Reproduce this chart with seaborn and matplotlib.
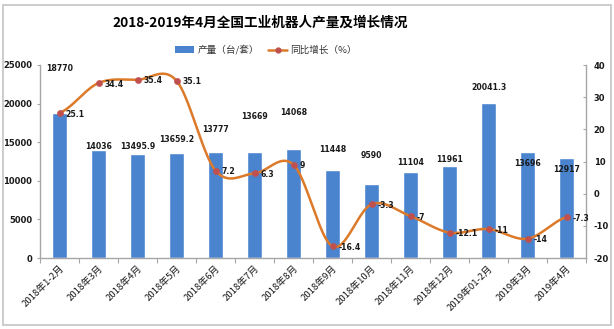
import numpy as np
import matplotlib
matplotlib.use("Agg")
import matplotlib.pyplot as plt
from matplotlib.patches import Rectangle
from matplotlib.lines import Line2D
import seaborn as sns

# ---- data -------------------------------------------------------------
months = ["2018年1-2月", "2018年3月", "2018年4月", "2018年5月", "2018年6月",
          "2018年7月", "2018年8月", "2018年9月", "2018年10月", "2018年11月",
          "2018年12月", "2019年01-2月", "2019年3月", "2019年4月"]
output = [18770, 14036, 13495.9, 13659.2, 13777, 13669, 14068,
          11448, 9590, 11104, 11961, 20041.3, 13696, 12917]
growth = [25.1, 34.4, 35.4, 35.1, 7.2, 6.3, 9,
          -16.4, -3.3, -7, -12.1, -11, -14, -7.3]

title = "2018-2019年4月全国工业机器人产量及增长情况"
bar_name = "产量（台/套）"
line_name = "同比增长（%）"

# where the output labels sit (left-axis units)
bar_label_y = [24600, 14400, 14400, 15300, 16700, 18300, 18800,
               14100, 13300, 12400, 12800, 22150, 12300, 11500]

BAR_C = "#4a84cf"
LINE_C = "#dc7a2a"
MARK_C = "#c0504d"
AXIS_C = "#a6a6a6"
TEXT_C = "#1a1a1a"


def smooth_curve(values, steps=40):
    """Catmull-Rom curve through the points (x = 0..n-1)."""
    v = np.asarray(values, float)
    p = np.concatenate([[v[0]], v, [v[-1]]])
    xs, ys = [], []
    t = np.linspace(0, 1, steps, endpoint=False)
    h00 = 2 * t**3 - 3 * t**2 + 1
    h10 = t**3 - 2 * t**2 + t
    h01 = -2 * t**3 + 3 * t**2
    h11 = t**3 - t**2
    for i in range(len(v) - 1):
        p0, p1, p2, p3 = p[i], p[i + 1], p[i + 2], p[i + 3]
        m1 = (p2 - p0) / 2
        m2 = (p3 - p1) / 2
        ys.append(h00 * p1 + h10 * m1 + h01 * p2 + h11 * m2)
        xs.append(i + t)
    xs.append(np.array([len(v) - 1.0]))
    ys.append(np.array([v[-1]]))
    return np.concatenate(xs), np.concatenate(ys)


sns.set_theme(style="white")
plt.rcParams["font.family"] = ["Noto Sans CJK SC", "DejaVu Sans"]
plt.rcParams["axes.unicode_minus"] = False

W, H = 614, 329
fig = plt.figure(figsize=(W / 100, H / 100), dpi=100)
fig.patch.set_facecolor("white")
ax = fig.add_axes([40 / W, 1 - 258 / H, 546 / W, 193 / H])

# bars
sns.barplot(x=months, y=output, color=BAR_C, saturation=1, width=0.4, ax=ax, zorder=2)
ax.set_xlim(-0.5, len(months) - 0.5)
ax.set_ylim(0, 25000)
ax.set_yticks(range(0, 25001, 5000))
ax.set_xlabel("")
ax.set_ylabel("")

for i, (v, ly) in enumerate(zip(output, bar_label_y)):
    ax.text(i, ly, f"{v:g}", ha="center", va="center", fontsize=5.6,
            fontweight="bold", family="DejaVu Sans", color=TEXT_C, zorder=3)

# growth line on the secondary axis
ax2 = ax.twinx()
ax2.set_ylim(-20, 40)
ax2.set_yticks(range(-20, 41, 10))
cx, cy = smooth_curve(growth)
sns.lineplot(x=cx, y=cy, sort=False, ax=ax2, color=LINE_C, lw=1.8, zorder=3)
sns.scatterplot(x=np.arange(len(growth)), y=growth, ax=ax2, color=MARK_C,
                edgecolor=MARK_C, s=20, zorder=4)
for i, v in enumerate(growth):
    ax2.annotate(f"{v:g}", (i, v), xytext=(4.5, -0.8), textcoords="offset points",
                 ha="left", va="center", fontsize=5.6, fontweight="bold",
                 family="DejaVu Sans", color=TEXT_C, zorder=5)
ax2.set_ylabel("")

# axes styling
for s in ["top", "right"]:
    ax.spines[s].set_visible(False)
for s in ["top", "left", "bottom"]:
    ax2.spines[s].set_visible(False)
for s in ["left", "bottom"]:
    ax.spines[s].set_color(AXIS_C)
    ax.spines[s].set_linewidth(1.0)
ax2.spines["right"].set_color(AXIS_C)
ax2.spines["right"].set_linewidth(1.0)

ax.set_xticks(range(len(months)))
ax.set_xticklabels(months, rotation=45, ha="right", va="top",
                   rotation_mode="anchor", fontsize=6.9, color=TEXT_C)
ax.set_xticks(np.arange(-0.5, len(months)), minor=True)
ax.tick_params(axis="x", which="major", length=0, pad=4)
ax.tick_params(axis="x", which="minor", length=3.5, width=0.8, color=AXIS_C,
               direction="out", bottom=True)
ax.tick_params(axis="y", length=2.5, width=0.8, color=AXIS_C, direction="out",
               pad=3, labelsize=6, left=True)
ax2.tick_params(axis="y", length=2.5, width=0.8, color=AXIS_C, direction="in",
                pad=5.5, labelsize=6, right=True)
for lab in ax.get_yticklabels() + ax2.get_yticklabels():
    lab.set_fontweight("bold")
    lab.set_family("DejaVu Sans")
    lab.set_color(TEXT_C)
ax.grid(False)
ax2.grid(False)

# title and legend
fig.text(260 / W, 1 - 23 / H, title, ha="center", va="center", fontsize=9.8,
         fontweight="bold", color="black")
handles = [Rectangle((0, 0), 1, 1, facecolor=BAR_C, edgecolor="none"),
           Line2D([], [], color=LINE_C, lw=1.8, marker="o", markersize=3.5,
                  markerfacecolor=MARK_C, markeredgecolor=MARK_C)]
fig.legend(handles, [bar_name, line_name], loc="center",
           bbox_to_anchor=(266 / W, 1 - 50 / H), ncol=2, frameon=False,
           fontsize=6.9, handlelength=2.0, handleheight=0.6, handletextpad=0.3,
           columnspacing=1.0, labelcolor="#333333")

# chart frame
fig.patches.append(Rectangle((3 / W, 4 / H), 608 / W, 320 / H, transform=fig.transFigure,
                             fill=False, edgecolor="#c8c8c8", lw=1.3))

fig.savefig("out.png", dpi=100, facecolor="white")
